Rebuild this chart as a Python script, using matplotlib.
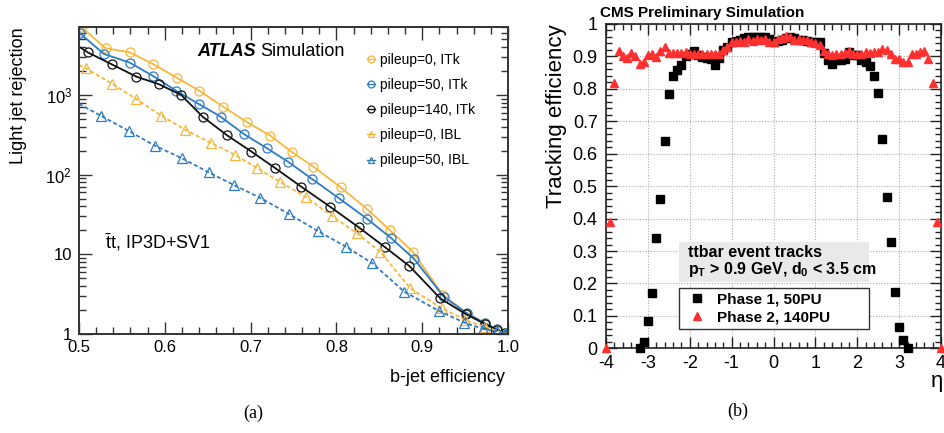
import numpy as np
import matplotlib
matplotlib.use('Agg')
import matplotlib.pyplot as plt
from matplotlib.lines import Line2D
from matplotlib.patches import Rectangle
from matplotlib.ticker import MultipleLocator, LogLocator, NullFormatter

plt.rcParams['font.family'] = ['Liberation Sans', 'DejaVu Sans']
plt.rcParams['mathtext.fontset'] = 'custom'
plt.rcParams['mathtext.rm'] = 'Liberation Sans'
plt.rcParams['mathtext.it'] = 'Liberation Sans:italic'
plt.rcParams['mathtext.bf'] = 'Liberation Sans:bold'

# ---------------- (a) ATLAS data ----------------
eff_itk0 = [0.503, 0.531, 0.559, 0.586, 0.614, 0.640, 0.668, 0.696, 0.723, 0.748, 0.773,
            0.805, 0.836, 0.862, 0.889, 0.924, 0.952, 0.973, 0.987, 0.996, 1.0]
rej_itk0 = [7000, 3850, 3420, 2440, 1640, 1130, 711, 453, 308, 192, 126,
            69, 36.7, 20.2, 10.8, 3.1, 1.83, 1.37, 1.15, 1.04, 1.0]

eff_itk50 = [0.501, 0.529, 0.559, 0.586, 0.613, 0.6395, 0.665, 0.692, 0.719, 0.744, 0.771,
             0.803, 0.836, 0.864, 0.891, 0.925, 0.952, 0.973, 0.987, 0.996, 1.0]
rej_itk50 = [5930, 3260, 2540, 1730, 1130, 769, 533, 323, 214, 144, 89,
             50.4, 27.7, 15.9, 8.65, 2.94, 1.82, 1.37, 1.14, 1.04, 1.0]

eff_itk140 = [0.5, 0.51, 0.538, 0.567, 0.593, 0.619, 0.644, 0.672, 0.701, 0.728, 0.759,
              0.7925, 0.826, 0.857, 0.885, 0.921, 0.951, 0.973, 0.987, 0.996, 1.0]
rej_itk140 = [4030, 3420, 2420, 1690, 1360, 1000, 533, 314, 194, 122, 70.5,
              39.6, 21.8, 12.2, 7.13, 2.8, 1.77, 1.34, 1.13, 1.04, 1.0]

eff_ibl0 = [0.5, 0.508, 0.539, 0.567, 0.596, 0.624, 0.6535, 0.682, 0.708, 0.734, 0.765,
            0.795, 0.824, 0.851, 0.886, 0.923, 0.95, 0.973, 0.987, 0.996, 1.0]
rej_ibl0 = [2370, 2160, 1370, 881, 548, 363, 251, 176, 120, 81.5, 51.6,
            30.2, 18.3, 10.8, 3.74, 2.1, 1.5, 1.23, 1.1, 1.03, 1.0]

eff_ibl50 = [0.5, 0.526, 0.558, 0.5886, 0.62, 0.651, 0.681, 0.711, 0.745, 0.7785,
             0.811, 0.842, 0.879, 0.919, 0.949, 0.971, 0.987, 0.996, 1.0]
rej_ibl50 = [769, 543, 352, 230, 160, 107, 73.4, 51.2, 31.9, 19.5,
             12.5, 7.71, 3.4, 1.96, 1.39, 1.16, 1.08, 1.02, 1.0]

atlas_labels = ['pileup=0, ITk', 'pileup=50, ITk', 'pileup=140, ITk',
                'pileup=0, IBL', 'pileup=50, IBL']
atlas_xticks = [0.5, 0.6, 0.7, 0.8, 0.9, 1.0]
atlas_xticklabels = ['0.5', '0.6', '0.7', '0.8', '0.9', '1.0']
atlas_yticks = [1, 10, 100, 1000]
atlas_yticklabels = ['1', '10', '$10^2$', '$10^3$']

# ---------------- (b) CMS data ----------------
eta_phase2 = np.linspace(-4.0, 4.0, 81)
eff_phase2 = [0.000, 0.390, 0.818, 0.918, 0.900, 0.895, 0.910, 0.900, 0.877, 0.883,
              0.905, 0.908, 0.898, 0.918, 0.929, 0.912, 0.912, 0.912, 0.912, 0.913,
              0.908, 0.908, 0.908, 0.906, 0.906, 0.908, 0.906, 0.908, 0.920, 0.930,
              0.943, 0.945, 0.947, 0.945, 0.955, 0.947, 0.955, 0.950, 0.955, 0.945,
              0.946,
              0.954, 0.957, 0.962, 0.960, 0.952, 0.954, 0.952, 0.950, 0.946, 0.941,
              0.934, 0.918, 0.908, 0.903, 0.908, 0.908, 0.911, 0.918, 0.908, 0.908,
              0.909, 0.914, 0.911, 0.913, 0.913, 0.924, 0.920, 0.906, 0.893, 0.891,
              0.883, 0.883, 0.909, 0.908, 0.913, 0.916, 0.893, 0.818, 0.390, 0.000]

eta_phase1 = np.linspace(-3.2, 3.2, 65)
eff_phase1 = [0.000, 0.018, 0.084, 0.172, 0.341, 0.461, 0.638, 0.783, 0.841, 0.857,
              0.874, 0.902, 0.906, 0.918, 0.905, 0.898, 0.895, 0.892, 0.874, 0.895,
              0.920, 0.930, 0.946, 0.948, 0.950, 0.956, 0.960, 0.960, 0.960, 0.960,
              0.960, 0.955,
              0.946,
              0.948, 0.952, 0.956, 0.960, 0.956, 0.952, 0.950, 0.948, 0.946, 0.946,
              0.945, 0.910, 0.890, 0.876, 0.888, 0.890, 0.893, 0.914, 0.904, 0.904,
              0.890, 0.883, 0.869, 0.841, 0.786, 0.645, 0.468, 0.327, 0.174, 0.067,
              0.026, 0.000]

cms_xticks = [-4, -3, -2, -1, 0, 1, 2, 3, 4]
cms_yticks = [0, 0.1, 0.2, 0.3, 0.4, 0.5, 0.6, 0.7, 0.8, 0.9, 1.0]
cms_yticklabels = ['0', '0.1', '0.2', '0.3', '0.4', '0.5', '0.6', '0.7', '0.8', '0.9', '1']

# ---------------- figure ----------------
W, H = 945, 433
fig = plt.figure(figsize=(W / 100, H / 100), dpi=100)


def px_axes(x0, y0, x1, y1):
    return fig.add_axes([x0 / W, 1 - y1 / H, (x1 - x0) / W, (y1 - y0) / H])


def fig_text(x, y, s, **kw):
    return fig.text(x / W, 1 - y / H, s, **kw)


YEL = '#f6b73c'
BLU = '#2d7cc4'
BLK = '#111111'

# ---- panel (a) ----
ax1 = px_axes(79, 27, 508, 334)
ax1.set_yscale('log')
series = [
    (eff_itk0, rej_itk0, YEL, 'o', '-', None),
    (eff_itk50, rej_itk50, BLU, 'o', '-', None),
    (eff_itk140, rej_itk140, BLK, 'o', '-', slice(1, None)),
    (eff_ibl0, rej_ibl0, YEL, '^', (0, (2.2, 1.4)), slice(1, None)),
    (eff_ibl50, rej_ibl50, BLU, '^', (0, (2.2, 1.4)), slice(1, None)),
]
for e, r, c, m, ls, me in series:
    ax1.plot(e, r, color=c, ls=ls, lw=1.3, marker=m, ms=6.5, mfc='none', mec=c,
             mew=0.9, markevery=me)

ax1.set_xlim(0.5, 1.0)
ax1.set_ylim(1, 7100)
ax1.set_xticks(atlas_xticks)
ax1.set_xticklabels(atlas_xticklabels)
ax1.xaxis.set_minor_locator(MultipleLocator(0.02))
ax1.set_yticks(atlas_yticks)
ax1.set_yticklabels(atlas_yticklabels)
ax1.yaxis.set_minor_locator(LogLocator(base=10, subs=np.arange(2, 10)))
ax1.yaxis.set_minor_formatter(NullFormatter())
ax1.tick_params(which='both', direction='in', top=True, right=True, labelsize=12,
                width=1.0, color='#333333')
ax1.tick_params(which='major', length=9)
ax1.tick_params(which='minor', length=5)
ax1.tick_params(axis='x', pad=4)
ax1.tick_params(axis='y', pad=5)
for sp in ax1.spines.values():
    sp.set_linewidth(1.4)
    sp.set_color('#333333')

ax1.set_ylabel('Light jet rejection', fontsize=13, loc='top')
ax1.yaxis.set_label_coords(-(79 - 27) / 429, 1.0)
ax1.set_xlabel('b-jet efficiency', fontsize=13, loc='right')
ax1.xaxis.set_label_coords((505 - 79) / 429, -(369 - 334) / 307)

ax1.text((197 - 79) / 429, (334 - 51) / 307, 'ATLAS', transform=ax1.transAxes,
         fontsize=13, fontweight='bold', fontstyle='italic', va='center', ha='left')
ax1.text((260 - 79) / 429, (334 - 51) / 307, 'Simulation', transform=ax1.transAxes,
         fontsize=13, va='center', ha='left')
ax1.text((105 - 79) / 429, (334 - 242) / 307, r'$\bar{\mathrm{t}}$t, IP3D+SV1',
         transform=ax1.transAxes, fontsize=13, va='center', ha='left')

handles = []
for e, r, c, m, ls, me in series:
    handles.append(Line2D([], [], color=c, ls='-', lw=1.0, marker=m, ms=5,
                          mfc='none', mec=c, mew=0.9))
ax1.legend(handles, atlas_labels, loc='upper left',
           bbox_to_anchor=((367 - 79) / 429, (334 - 53) / 307),
           frameon=False, fontsize=10, handlelength=0.55, handletextpad=0.35,
           labelspacing=0.8, borderpad=0, borderaxespad=0)

fig_text(253, 413, '(a)', fontsize=13, family=['Liberation Serif', 'DejaVu Serif'],
         ha='center', va='center')

# ---- panel (b) ----
ax2 = px_axes(606, 24, 941, 348.3)
ax2.grid(True, which='major', ls=(0, (1, 1.5)), color='#aaaaaa', lw=0.8, zorder=0)
ax2.set_axisbelow(True)
ax2.plot(eta_phase1, eff_phase1, ls='none', marker='s', ms=5.5, color='black',
         clip_on=False, zorder=3)
ax2.plot(eta_phase2, eff_phase2, ls='none', marker='^', ms=5.5, color='#ff3030',
         clip_on=False, zorder=4)
ax2.set_xlim(-4, 4)
ax2.set_ylim(0, 1)
ax2.set_xticks(cms_xticks)
ax2.set_xticklabels([str(t) for t in cms_xticks])
ax2.set_yticks(cms_yticks)
ax2.set_yticklabels(cms_yticklabels)
ax2.xaxis.set_minor_locator(MultipleLocator(0.2))
ax2.yaxis.set_minor_locator(MultipleLocator(0.02))
ax2.tick_params(which='both', direction='in', top=True, right=True, labelsize=13,
                width=1.0, color='#222222')
ax2.tick_params(which='major', length=8)
ax2.tick_params(which='minor', length=4)
ax2.tick_params(axis='x', pad=5)
ax2.tick_params(axis='y', pad=6)
for sp in ax2.spines.values():
    sp.set_linewidth(1.2)
    sp.set_color('#222222')

ax2.set_ylabel('Tracking efficiency', fontsize=16, loc='top')
ax2.yaxis.set_label_coords(-(606 - 567) / 335, 1.0)
fig_text(937, 381, '\u03b7', fontsize=16, ha='center', va='center')
fig_text(600, 13, 'CMS Preliminary Simulation', fontsize=11, fontweight='bold',
         ha='left', va='center')

# gray info box
ax2.add_patch(Rectangle(((679 - 606) / 335, (348.3 - 282) / 324), (869 - 679) / 335,
                        40 / 324, transform=ax2.transAxes, facecolor='#e9e9e9',
                        edgecolor='none', zorder=5))
ax2.text((688 - 606) / 335, (348.3 - 253) / 324, 'ttbar event tracks',
         transform=ax2.transAxes, fontsize=11.5, fontweight='bold', va='center',
         ha='left', zorder=6)
ax2.text((688 - 606) / 335, (348.3 - 270) / 324,
         r'p$_\mathbf{T}$ > 0.9 GeV, d$_\mathbf{0}$ < 3.5 cm',
         transform=ax2.transAxes, fontsize=11.5, fontweight='bold', va='center',
         ha='left', zorder=6)

h1 = Line2D([], [], ls='none', marker='s', ms=5.5, color='black')
h2 = Line2D([], [], ls='none', marker='^', ms=5.5, color='#ff3030')
leg = ax2.legend([h1, h2], ['Phase 1, 50PU', 'Phase 2, 140PU'], loc='lower left',
                 bbox_to_anchor=((679 - 606) / 335, (348.3 - 329.3) / 324,
                                 (869 - 679) / 335, 40 / 324),
                 mode='expand', borderaxespad=0, fancybox=False, framealpha=1,
                 edgecolor='#333333', prop={'weight': 'bold', 'size': 11},
                 borderpad=0.3, handlelength=1.75, handletextpad=0.45,
                 labelspacing=0.3)
leg.get_frame().set_linewidth(1.0)
leg.set_zorder(6)

fig_text(738, 411, '(b)', fontsize=13, family=['Liberation Serif', 'DejaVu Serif'],
         ha='center', va='center')

fig.savefig('out.png', dpi=100)
